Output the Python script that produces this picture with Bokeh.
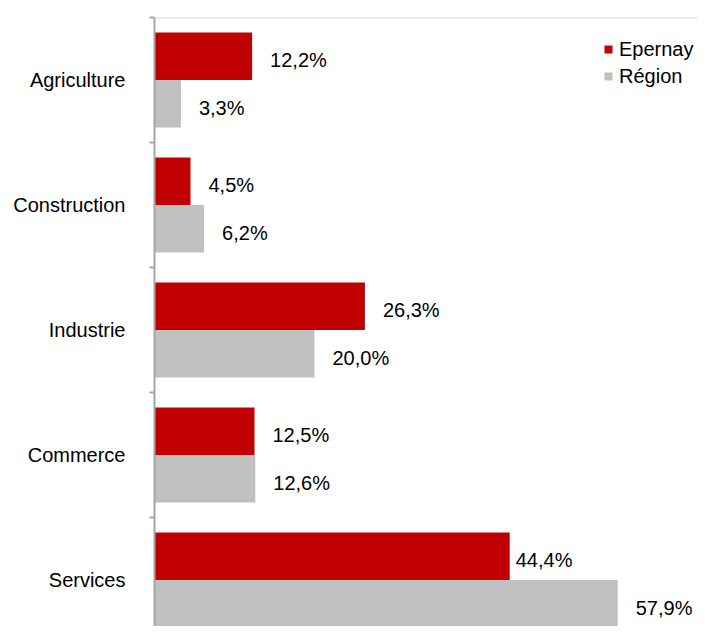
from bokeh.plotting import figure
from bokeh.models import Range1d, FixedTicker, ColumnDataSource, Legend, LegendItem, Span
from bokeh.transform import dodge
from bokeh.core.properties import value
from bokeh.embed import file_html
from bokeh.resources import INLINE

categories = ["Agriculture", "Construction", "Industrie", "Commerce", "Services"]
epernay = [12.2, 4.5, 26.3, 12.5, 44.4]
region = [3.3, 6.2, 20.0, 12.6, 57.9]
series_names = ["Epernay", "Région"]
epernay_label_offsets = [18, 18, 18, 18, 6]
region_label_offsets = [18, 18, 18, 18, 18]

RED = "#C00000"
GRAY = "#C0C0C0"
FONT = "Liberation Sans"


def fmt(v):
    return f"{v:.1f}".replace(".", ",") + "%"


pos = [i + 0.5 for i in range(len(categories))]
src = ColumnDataSource(dict(
    pos=pos,
    epernay=epernay,
    region=region,
    ep_lab=[fmt(v) for v in epernay],
    re_lab=[fmt(v) for v in region],
    ep_off=epernay_label_offsets,
    re_off=region_label_offsets,
))

p = figure(width=697, height=626,
           x_range=Range1d(0, 67.875), y_range=Range1d(4.872, 0),
           x_axis_location=None, y_axis_location="left",
           output_backend="svg", toolbar_location=None,
           min_border_left=154, min_border_top=17,
           min_border_right=0, min_border_bottom=0)
p.grid.visible = False
p.outline_line_color = None
p.background_fill_color = "white"
p.border_fill_color = "white"

yaxis = p.yaxis[0]
yaxis.ticker = FixedTicker(ticks=pos, minor_ticks=[0, 1, 2, 3, 4])
yaxis.major_label_overrides = {pv: c for pv, c in zip(pos, categories)}
yaxis.major_tick_out = 0
yaxis.major_tick_in = 0
yaxis.minor_tick_out = 5
yaxis.minor_tick_in = 0
yaxis.minor_tick_line_color = "#A6A6A6"
yaxis.minor_tick_line_width = 2
yaxis.axis_line_color = "#A6A6A6"
yaxis.axis_line_width = 2
yaxis.major_label_standoff = 24
yaxis.major_label_text_font = FONT
yaxis.major_label_text_font_size = "20px"
yaxis.major_label_text_color = "black"

p.add_layout(Span(location=0, dimension="width", line_color="#D9D9D9", line_width=2))

r1 = p.hbar(y=dodge("pos", -0.19, range=p.y_range), height=0.38, left=0, right="epernay",
            source=src, fill_color=RED, line_color=None)
r2 = p.hbar(y=dodge("pos", 0.19, range=p.y_range), height=0.38, left=0, right="region",
            source=src, fill_color=GRAY, line_color=None)

p.text(x="epernay", y=dodge("pos", -0.19, range=p.y_range), text="ep_lab", x_offset="ep_off",
       y_offset=4, source=src, text_font=value(FONT), text_font_size="20px", text_color="black",
       text_baseline="middle", text_align="left")
p.text(x="region", y=dodge("pos", 0.19, range=p.y_range), text="re_lab", x_offset="re_off",
       y_offset=4, source=src, text_font=value(FONT), text_font_size="20px", text_color="black",
       text_baseline="middle", text_align="left")

legend = Legend(items=[LegendItem(label=series_names[0], renderers=[r1]),
                       LegendItem(label=series_names[1], renderers=[r2])],
                location=(449, 538), orientation="vertical",
                glyph_width=10, glyph_height=10, label_standoff=6,
                label_height=24, spacing=3, padding=0, margin=0,
                border_line_color=None, background_fill_alpha=0,
                label_text_font=FONT, label_text_font_size="20px",
                label_text_color="black")
p.add_layout(legend)

open("out.html", "w").write(file_html(p, INLINE))
